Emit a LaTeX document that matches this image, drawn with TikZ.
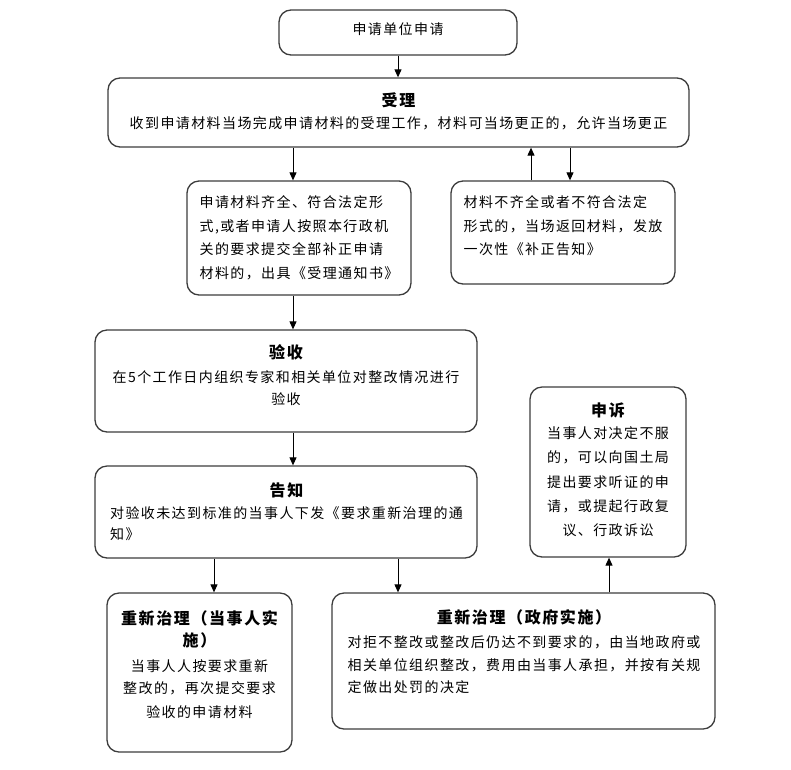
\documentclass[tikz,border=0pt]{standalone}
\usepackage{fontspec}
\usetikzlibrary{arrows.meta}
\newfontfamily\cjk{Noto Sans CJK SC}[LetterSpace=10]
\newcommand\ttl[1]{{\fontsize{16}{24}\selectfont\bfseries #1}}
\definecolor{boxgray}{HTML}{3C3C3C}
\begin{document}
\begin{tikzpicture}[x=1pt,y=-1pt,
  box/.style={draw=boxgray, line width=1.3pt, rounded corners=12pt, inner sep=0pt},
  txt/.style={inner sep=0pt, anchor=base, font=\cjk\fontsize{14}{24}\selectfont},
  arr/.style={draw=black, line width=1pt, -{Triangle[length=8pt,width=7pt]}}]
\useasboundingbox (0,0) rectangle (791,769);
% boxes
\node[box, minimum width=238pt, minimum height=45pt]  (b1) at (398,32.5) {};
\node[box, minimum width=581pt, minimum height=69pt]  (b2) at (398.5,112.5) {};
\node[box, minimum width=224pt, minimum height=114pt] (b3) at (299,238) {};
\node[box, minimum width=224pt, minimum height=103pt] (b4) at (563,232.5) {};
\node[box, minimum width=382pt, minimum height=102pt] (b5) at (286,381) {};
\node[box, minimum width=382pt, minimum height=92pt]  (b6) at (286,512) {};
\node[box, minimum width=185pt, minimum height=159pt] (b7) at (199.5,672.5) {};
\node[box, minimum width=383pt, minimum height=136pt] (b8) at (523.5,661) {};
\node[box, minimum width=156pt, minimum height=170pt] (b9) at (608,472) {};
% texts
\node[txt] (t1) at (398,34.3) {申请单位申请};
\node[txt] (t2) at (398.5,106) {\begin{tabular}[t]{@{}c@{}}\ttl{受理}\\[-2pt]收到申请材料当场完成申请材料的受理工作，材料可当场更正的，允许当场更正\end{tabular}};
\node[txt] (t3) at (299,207.3) {\begin{tabular}[t]{@{}l@{}}申请材料齐全、符合法定形\\式,或者申请人按照本行政机\\[-0.5pt]关的要求提交全部补正申请\\[-0.5pt]材料的，出具《受理通知书》\end{tabular}};
\node[txt] (t4) at (563,207.3) {\begin{tabular}[t]{@{}l@{}}材料不齐全或者不符合法定\\形式的，当场返回材料，发放\\[-1pt]一次性《补正告知》\end{tabular}};
\node[txt] (t5) at (286,358) {\begin{tabular}[t]{@{}c@{}}\ttl{验收}\\在5个工作日内组织专家和相关单位对整改情况进行\\[-2pt]验收\end{tabular}};
\node[txt] (t6) at (286.5,496) {\begin{tabular}[t]{@{}l@{}}\multicolumn{1}{@{}c@{}}{\ttl{告知}}\\[-2pt]对验收未达到标准的当事人下发《要求重新治理的通\\[-3pt]知》\end{tabular}};
\node[txt] (t7) at (199.5,624) {\begin{tabular}[t]{@{}c@{}}\ttl{重新治理（当事人实}\\[-2pt]\ttl{施）}\\[1pt]当事人人按要求重新\\[-2pt]整改的，再次提交要求\\验收的申请材料\end{tabular}};
\node[txt] (t8) at (524,623) {\begin{tabular}[t]{@{}l@{}}\multicolumn{1}{@{}c@{}}{\ttl{重新治理（政府实施）}}\\对拒不整改或整改后仍达不到要求的，由当地政府或\\[-1pt]相关单位组织整改，费用由当事人承担，并按有关规\\[-2pt]定做出处罚的决定\end{tabular}};
\node[txt] (t9) at (608,416) {\begin{tabular}[t]{@{}c@{}}\ttl{申诉}\\[-2pt]当事人对决定不服\\[0.7pt]的，可以向国土局\\[0.7pt]提出要求听证的申\\请，或提起行政复\\议、行政诉讼\end{tabular}};
% arrow x positions
\coordinate (xA) at (398,0);
\coordinate (xB) at (293,0);
\coordinate (xC) at (531,0);
\coordinate (xD) at (570,0);
\coordinate (xE) at (214,0);
\coordinate (xF) at (609,0);
% arrows
\draw[arr] (b1.south) -- (b1.south |- b2.north);
\draw[arr] (b2.south -| xB) -- (b3.north -| xB);
\draw[arr] (b4.north -| xC) -- (b2.south -| xC);
\draw[arr] (b2.south -| xD) -- (b4.north -| xD);
\draw[arr] (b3.south -| xB) -- (b5.north -| xB);
\draw[arr] (b5.south -| xB) -- (b6.north -| xB);
\draw[arr] (b6.south -| xE) -- (b7.north -| xE);
\draw[arr] (b6.south -| xA) -- (b8.north -| xA);
\draw[arr] (b8.north -| xF) -- (b9.south -| xF);
\end{tikzpicture}
\end{document}
